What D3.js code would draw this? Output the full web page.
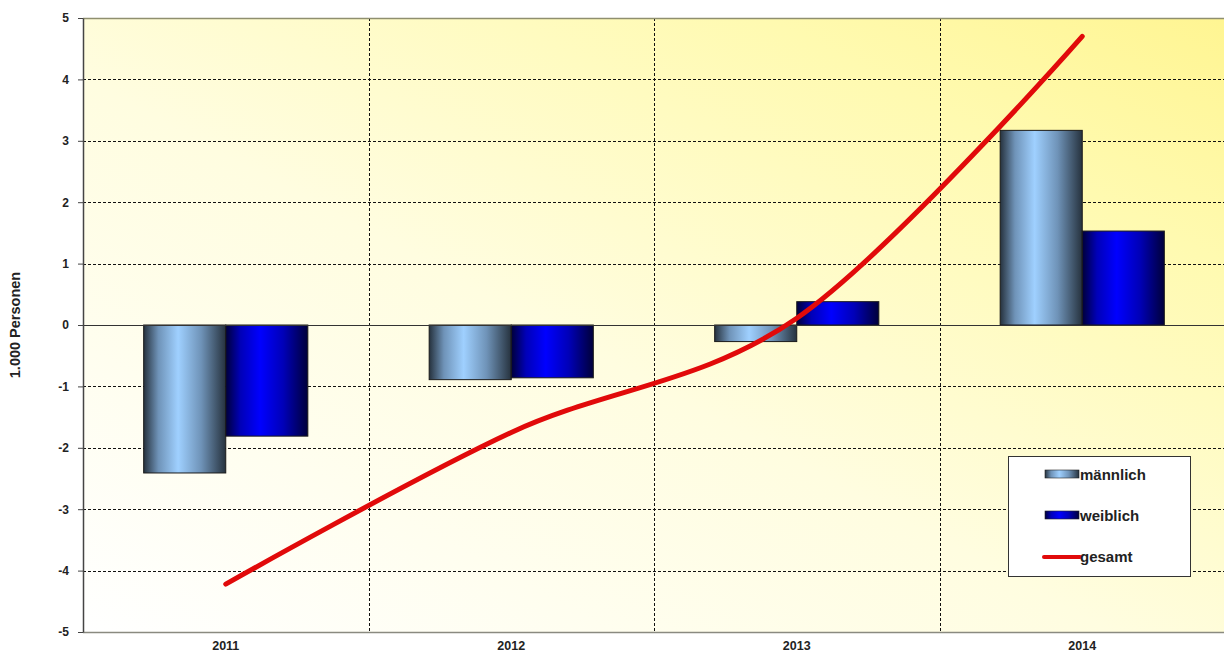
<!DOCTYPE html>
<html>
<head>
<meta charset="utf-8">
<script src="https://cdn.jsdelivr.net/npm/d3@7"></script>
<style>
  html, body { margin: 0; padding: 0; background: #ffffff; }
  svg { display: block; }
  text { font-family: "Liberation Sans", Arial, sans-serif; font-weight: bold; fill: #222; }
</style>
</head>
<body>
<svg id="chart" width="1224" height="656"></svg>
<script>
// Jahre und Werte (1.000 Personen)
const years = ["2011", "2012", "2013", "2014"];
const maennlich = [-2.41, -0.89, -0.27, 3.17];
const weiblich = [-1.81, -0.86, 0.38, 1.53];
const gesamt = [-4.22, -1.75, 0.11, 4.70];
const seriesNames = ["männlich", "weiblich"];
const yTicks = [-5, -4, -3, -2, -1, 0, 1, 2, 3, 4, 5];

const svg = d3.select("#chart");
const W = 1224, H = 656;
const m = { left: 83, right: -1, top: 18, bottom: 24 };
const plotW = W - m.left - m.right;
const plotH = H - m.top - m.bottom;

const defs = svg.append("defs");

// Hintergrund: von hell (unten links) nach gelb (oben rechts)
const bg = defs.append("linearGradient").attr("id", "bgGrad")
  .attr("x1", 0).attr("y1", 1).attr("x2", 1).attr("y2", 0);
bg.append("stop").attr("offset", "0%").attr("stop-color", "#ffffff");
bg.append("stop").attr("offset", "45%").attr("stop-color", "#fffde0");
bg.append("stop").attr("offset", "80%").attr("stop-color", "#fffab0");
bg.append("stop").attr("offset", "100%").attr("stop-color", "#fff592");

// Zylinder-Verläufe der Säulen
function barGradient(id, edge, mid, light) {
  const g = defs.append("linearGradient").attr("id", id)
    .attr("x1", 0).attr("y1", 0).attr("x2", 1).attr("y2", 0);
  g.append("stop").attr("offset", "0%").attr("stop-color", edge);
  g.append("stop").attr("offset", "18%").attr("stop-color", mid);
  g.append("stop").attr("offset", "42%").attr("stop-color", light);
  g.append("stop").attr("offset", "70%").attr("stop-color", mid);
  g.append("stop").attr("offset", "100%").attr("stop-color", edge);
}
barGradient("gradM", "#26323e", "#6f93b8", "#9fd0ff");
barGradient("gradW", "#00003a", "#0000b8", "#0000ff");

const x0 = d3.scaleBand().domain(years)
  .range([m.left, m.left + plotW])
  .paddingInner(0.425).paddingOuter(0.2125);
const x1 = d3.scaleBand().domain(seriesNames).range([0, x0.bandwidth()]);
const y = d3.scaleLinear().domain([-5, 5]).range([m.top + plotH, m.top]);

// Plotfläche
svg.append("rect")
  .attr("x", m.left).attr("y", m.top)
  .attr("width", plotW).attr("height", plotH)
  .attr("fill", "url(#bgGrad)");

// Horizontale Gitterlinien
svg.append("g").selectAll("line")
  .data(yTicks.filter(d => d !== 0 && d !== 5 && d !== -5))
  .join("line")
  .attr("x1", m.left).attr("x2", m.left + plotW)
  .attr("y1", d => Math.round(y(d)) + 0.5).attr("y2", d => Math.round(y(d)) + 0.5)
  .attr("stroke", "#111").attr("stroke-width", 1)
  .attr("stroke-dasharray", "3,2");

// Vertikale Gitterlinien zwischen den Jahren
const bounds = years.slice(1).map(d => x0(d) - x0.step() * x0.paddingInner() / 2);
svg.append("g").selectAll("line")
  .data(bounds)
  .join("line")
  .attr("x1", d => Math.round(d) + 0.5).attr("x2", d => Math.round(d) + 0.5)
  .attr("y1", m.top).attr("y2", m.top + plotH)
  .attr("stroke", "#111").attr("stroke-width", 1)
  .attr("stroke-dasharray", "3,2");

// Rahmen oben und unten
svg.append("line")
  .attr("x1", m.left).attr("x2", W).attr("y1", m.top + 0.5).attr("y2", m.top + 0.5)
  .attr("stroke", "#8f8f6f").attr("stroke-width", 1.5);
svg.append("line")
  .attr("x1", m.left).attr("x2", W).attr("y1", m.top + plotH + 0.5).attr("y2", m.top + plotH + 0.5)
  .attr("stroke", "#8a8a80").attr("stroke-width", 1.5);

// Säulen
const rows = years.map((yr, i) => ({ year: yr, values: [
  { key: "männlich", v: maennlich[i], fill: "url(#gradM)" },
  { key: "weiblich", v: weiblich[i], fill: "url(#gradW)" }
]}));

svg.append("g").selectAll("g")
  .data(rows)
  .join("g")
  .attr("transform", d => `translate(${x0(d.year)},0)`)
  .selectAll("rect")
  .data(d => d.values)
  .join("rect")
  .attr("x", d => x1(d.key))
  .attr("width", x1.bandwidth())
  .attr("y", d => y(Math.max(0, d.v)))
  .attr("height", d => Math.abs(y(d.v) - y(0)))
  .attr("fill", d => d.fill)
  .attr("stroke", "#1a1a1a").attr("stroke-width", 1);

// Nulllinie
svg.append("line")
  .attr("x1", m.left).attr("x2", m.left + plotW)
  .attr("y1", Math.round(y(0)) + 0.5).attr("y2", Math.round(y(0)) + 0.5)
  .attr("stroke", "#333").attr("stroke-width", 1);

// Linie gesamt (geglättet)
const line = d3.line()
  .x((d, i) => x0(years[i]) + x0.bandwidth() / 2)
  .y(d => y(d))
  .curve(d3.curveCatmullRom.alpha(0));
svg.append("path")
  .datum(gesamt)
  .attr("d", line)
  .attr("fill", "none")
  .attr("stroke", "#e10a0a")
  .attr("stroke-width", 5)
  .attr("stroke-linecap", "round");

// Y-Achse
const yAxis = svg.append("g")
  .attr("transform", `translate(${m.left},0)`)
  .call(d3.axisLeft(y).tickValues(yTicks).tickFormat(d => String(d))
    .tickSize(5).tickSizeOuter(0).tickPadding(9));
yAxis.select(".domain").attr("stroke", "#444").attr("stroke-width", 1.5);
yAxis.selectAll(".tick line").attr("stroke", "#444");
yAxis.selectAll("text")
  .style("font-family", "'Liberation Sans', Arial, sans-serif")
  .style("font-weight", "bold").style("font-size", "12px").attr("fill", "#222");

// X-Achsenbeschriftung
svg.append("g").selectAll("text")
  .data(years)
  .join("text")
  .attr("x", d => x0(d) + x0.bandwidth() / 2)
  .attr("y", H - 6)
  .attr("text-anchor", "middle")
  .style("font-size", "12.5px")
  .text(d => d);

// Achsentitel
svg.append("text")
  .attr("transform", `translate(20,${y(0)}) rotate(-90)`)
  .attr("text-anchor", "middle")
  .style("font-size", "14.5px")
  .text("1.000 Personen");

// Legende
const lg = svg.append("g").attr("transform", "translate(1008,456)");
lg.append("rect")
  .attr("x", 0.5).attr("y", 0.5).attr("width", 182).attr("height", 120)
  .attr("fill", "#ffffff").attr("stroke", "#333").attr("stroke-width", 1);
const legendItems = [
  { label: "männlich", type: "bar", fill: "url(#gradM)" },
  { label: "weiblich", type: "bar", fill: "url(#gradW)" },
  { label: "gesamt", type: "line" }
];
const li = lg.selectAll("g.item")
  .data(legendItems)
  .join("g")
  .attr("class", "item")
  .attr("transform", (d, i) => `translate(0,${18 + i * 41})`);
li.filter(d => d.type === "bar").append("rect")
  .attr("x", 37).attr("y", -4).attr("width", 34).attr("height", 8)
  .attr("fill", d => d.fill).attr("stroke", "#222").attr("stroke-width", 0.6);
li.filter(d => d.type === "line").append("line")
  .attr("x1", 36).attr("x2", 72).attr("y1", 1).attr("y2", 1)
  .attr("stroke", "#e10a0a").attr("stroke-width", 4).attr("stroke-linecap", "round");
li.append("text")
  .attr("x", 72).attr("y", 5.5)
  .style("font-size", "15px")
  .text(d => d.label);
</script>
</body>
</html>
